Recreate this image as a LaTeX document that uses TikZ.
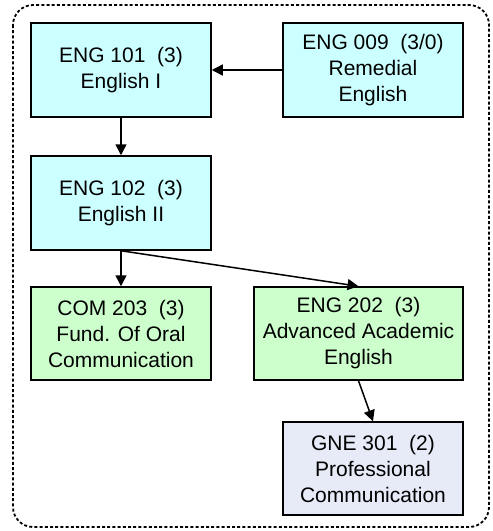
\documentclass[tikz,border=0pt]{standalone}
\usepackage{fontspec}
\setmainfont{Liberation Sans}
\usepackage{tikz}
\usetikzlibrary{arrows.meta,shapes}

\definecolor{engcyan}{HTML}{CCFFFF}
\definecolor{comgreen}{HTML}{CCFFCC}
\definecolor{gnegrey}{HTML}{E6EBF7}

\begin{document}
\begin{tikzpicture}[x=1pt,y=-1pt,->,>={Triangle[length=11pt,width=11pt]},line width=1.5pt,
    course/.style={shape=rectangle,draw=black,minimum width=180pt,minimum height=94pt,align=center,
        font=\fontsize{21pt}{26pt}\selectfont,inner sep=0pt}]
                \useasboundingbox (0,0) rectangle (493,531);
                \draw[-,line width=1.8pt,dash pattern=on 3pt off 2.2pt,rounded corners=20pt] (13,5) rectangle (489,527);
                \node[course,fill=engcyan](101)at(121, 70){ENG 101~~(3)\\English I};
                \node[course,fill=engcyan](009)at(373, 70){ENG 009~~(3/0)\\Remedial\\English};
                \node[course,fill=engcyan](102)at(121, 203){ENG 102~~(3)\\English II};
                \node[course,fill=comgreen,minimum height=93pt](203)at(121, 333.5){COM 203~~(3)\\Fund. Of Oral\\Communication};
                \node[course,fill=comgreen,minimum width=209pt,minimum height=93pt](202)at(358.5, 333.5){ENG 202~~(3)\\Advanced Academic\\English};
                \node[course,fill=gnegrey,minimum height=93pt](301)at(373, 468.5){GNE 301~~(2)\\Professional\\Communication};
                \path[](009) edge (101)
                (101) edge (102)
                (102.south) edge (203)
                (102.south) edge (202.north)
                (202.south) edge (301.north);
            \end{tikzpicture}
\end{document}
